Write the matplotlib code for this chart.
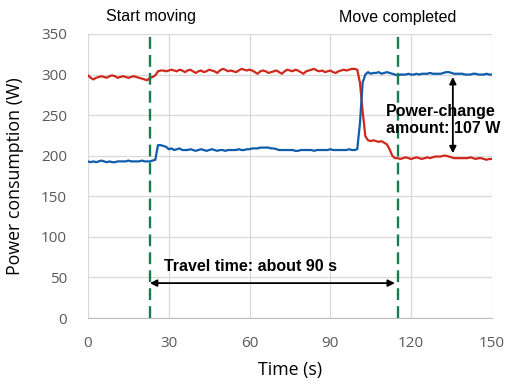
import numpy as np
import matplotlib
matplotlib.use("Agg")
import matplotlib.pyplot as plt

# power readings, one sample per second (W)
red_w = [299, 296, 294, 296, 297, 298, 297, 296, 298, 299,
         298, 296, 297, 298, 297, 296, 297, 298, 297, 296,
         295, 294, 293, 296, 297, 299, 304, 305, 305, 304,
         305, 306, 305, 304, 306, 305, 303, 305, 306, 304,
         302, 304, 305, 303, 304, 306, 305, 304, 302, 305,
         307, 306, 304, 305, 304, 303, 305, 307, 306, 305,
         306, 305, 303, 301, 304, 305, 304, 302, 303, 304,
         305, 303, 301, 304, 306, 305, 304, 306, 305, 303,
         301, 304, 305, 306, 307, 305, 304, 305, 303, 304,
         305, 303, 302, 304, 305, 306, 305, 306, 307, 307,
         306, 290, 255, 224, 219, 218, 219, 218, 217, 218,
         216, 214, 208, 200, 197, 197, 196, 197, 198, 197,
         196, 197, 198, 197, 196, 197, 198, 197, 198, 199,
         199, 199, 200, 200, 199, 198, 197, 197, 197, 197,
         197, 197, 198, 197, 196, 197, 197, 196, 195, 196, 196]

blue_w = [193, 192, 193, 192, 193, 194, 193, 192, 193, 192,
          192, 193, 193, 193, 193, 194, 193, 193, 193, 193,
          194, 193, 193, 193, 194, 195, 213, 213, 212, 211,
          208, 209, 207, 208, 209, 207, 207, 207, 208, 207,
          206, 207, 208, 207, 206, 207, 208, 207, 206, 207,
          207, 206, 207, 207, 207, 207, 208, 207, 207, 208,
          208, 209, 209, 209, 210, 210, 210, 210, 209, 209,
          208, 207, 207, 207, 207, 207, 207, 206, 206, 207,
          207, 207, 207, 207, 206, 207, 207, 207, 207, 207,
          208, 207, 207, 207, 207, 207, 207, 208, 207, 207,
          208, 240, 290, 300, 303, 301, 302, 302, 303, 301,
          302, 303, 302, 301, 300, 299, 300, 300, 300, 301,
          300, 300, 301, 300, 301, 301, 301, 302, 301, 301,
          301, 301, 302, 303, 303, 302, 301, 301, 301, 301,
          300, 300, 300, 301, 301, 300, 300, 300, 301, 300, 300]

t_start = 23
t_end = 115
change_x = 135.5
change_lo, change_hi = 203, 297

time_s = np.arange(len(red_w))

fig = plt.figure(figsize=(5.1, 3.88), dpi=100)
ax = fig.add_axes([0.1725, 0.1804, 0.792, 0.732])

ax.plot(time_s, red_w, color="#D0281D", lw=1.6, zorder=3)
ax.plot(time_s, blue_w, color="#0F5CAD", lw=1.6, zorder=3)

green = "#1B7A4E"
for xv in (t_start, t_end):
    ax.axvline(xv, color=green, lw=1.7, ls=(0, (5, 2.6)), zorder=4)

ax.set_xlim(0, 150)
ax.set_ylim(0, 350)
ax.set_xticks(np.arange(0, 151, 30))
ax.set_yticks(np.arange(0, 351, 50))
ax.grid(True, color="#D9D9D9", lw=0.9)
ax.set_axisbelow(True)
for s in ("top", "right", "left"):
    ax.spines[s].set_visible(False)
ax.spines["bottom"].set_color("#BFBFBF")
ax.tick_params(length=0, labelsize=11, labelcolor="#595959")
ax.tick_params(axis="x", pad=13)
ax.tick_params(axis="y", pad=15)
for lab in ax.get_xticklabels() + ax.get_yticklabels():
    lab.set_family("Open Sans")

ax.set_xlabel("Time (s)", fontsize=12.8, family="Open Sans", labelpad=7)
ax.set_ylabel("Power consumption (W)", fontsize=12.8, family="Open Sans", labelpad=12)

# annotations
ax.text(t_start + 0.5, 372, "Start moving", ha="center", va="center",
        fontsize=11.5, family="Liberation Sans", clip_on=False)
ax.text(t_end, 370, "Move completed", ha="center", va="center",
        fontsize=11.5, family="Liberation Sans", clip_on=False)

ax.annotate("", xy=(t_start, 43), xytext=(t_end - 1, 43),
            arrowprops=dict(arrowstyle="<|-|>", color="black", lw=1.3,
                            mutation_scale=10, shrinkA=0, shrinkB=0))
ax.text(60.5, 63, "Travel time: about 90 s", ha="center", va="center",
        fontsize=11.5, fontweight="bold", family="Liberation Sans")

ax.annotate("", xy=(change_x, change_hi), xytext=(change_x, change_lo),
            arrowprops=dict(arrowstyle="<|-|>", color="black", lw=1.3,
                            mutation_scale=10, shrinkA=0, shrinkB=0))
ax.text(110.5, 244, "Power-change\namount: 107 W", ha="left", va="center",
        fontsize=11.5, fontweight="bold", family="Liberation Sans",
        linespacing=1.1, zorder=5)

fig.savefig("out.png", dpi=100)
